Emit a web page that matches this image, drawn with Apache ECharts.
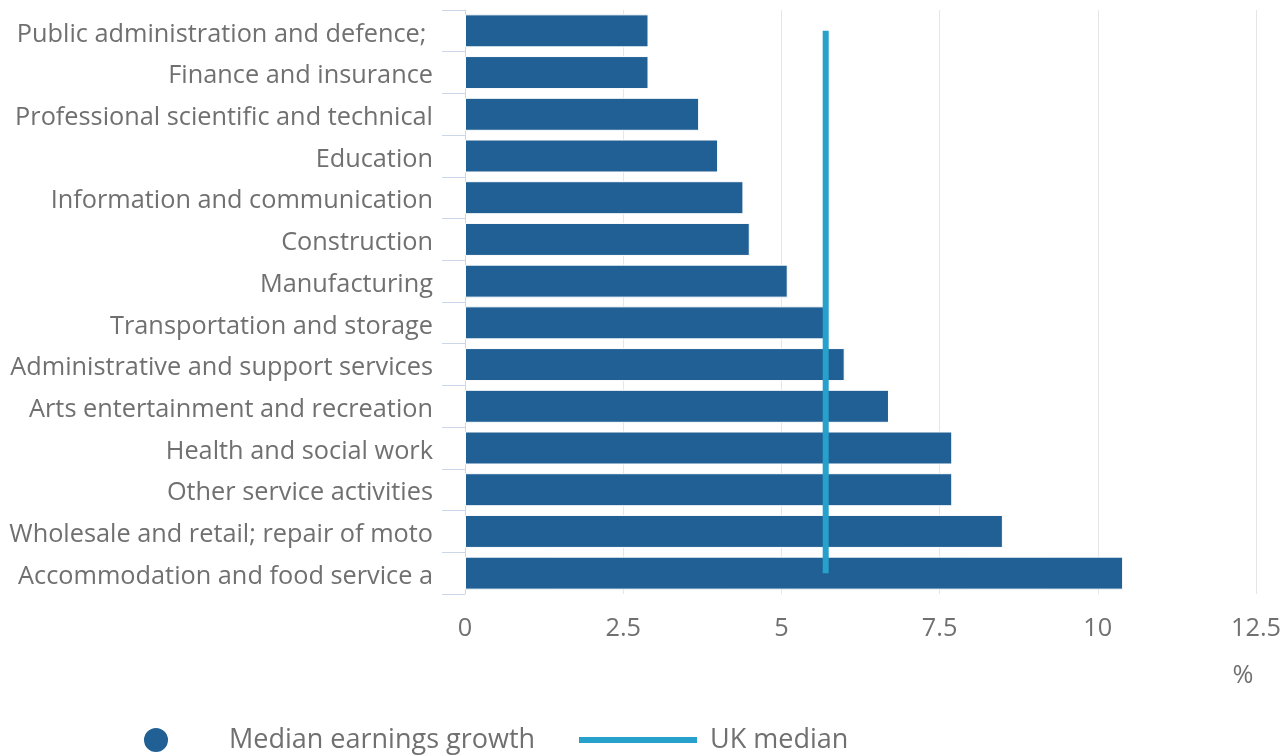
<!DOCTYPE html>
<html>
<head>
<meta charset="utf-8">
<script src="https://cdn.jsdelivr.net/npm/echarts@6/dist/echarts.min.js"></script>
<style>
  html, body { margin: 0; padding: 0; background: #fff; }
  #chart { width: 1288px; height: 755px; }
</style>
</head>
<body>
<div id="chart"></div>
<script>
// Industry sectors, top to bottom
const industries = [
  'Public administration and defence; social security',
  'Finance and insurance',
  'Professional scientific and technical',
  'Education',
  'Information and communication',
  'Construction',
  'Manufacturing',
  'Transportation and storage',
  'Administrative and support services',
  'Arts entertainment and recreation',
  'Health and social work',
  'Other service activities',
  'Wholesale and retail; repair of motor vehicles',
  'Accommodation and food service activities'
];

// Median earnings growth by industry, %
const medianGrowth = [2.9, 2.9, 3.7, 4.0, 4.4, 4.5, 5.1, 5.7, 6.0, 6.7, 7.7, 7.7, 8.5, 10.4];

// UK-wide median growth, %
const ukMedian = 5.7;
const ukMedianSeries = industries.map(() => ukMedian);

// Value axis ticks
const xTicks = [0, 2.5, 5, 7.5, 10, 12.5];

const FONT = "'Open Sans', 'Noto Sans', sans-serif";
const TEXT = '#707070';
const AXIS = '#ccd6eb';
const BAR = '#206095';
const LINE = '#27a0cc';

const chart = echarts.init(document.getElementById('chart'), null, { renderer: 'canvas' });

const legendText = { fontFamily: FONT, fontSize: 27, color: TEXT, lineHeight: 28 };

chart.setOption({
  animation: false,
  textStyle: { fontFamily: FONT },
  grid: { left: 465, right: 32, top: 10, bottom: 161, containLabel: false },
  legend: [
    {
      left: 137,
      top: 718,
      itemWidth: 26,
      itemHeight: 26,
      textStyle: Object.assign({}, legendText, { padding: [6, 0, 0, 55] }),
      data: [{ name: 'Median earnings growth', icon: 'circle' }]
    },
    {
      left: 574,
      top: 718,
      itemWidth: 118,
      itemHeight: 6,
      textStyle: Object.assign({}, legendText, { padding: [6, 0, 0, 8] }),
      data: [{ name: 'UK median', icon: 'rect', itemStyle: { color: LINE } }]
    }
  ],
  xAxis: {
    type: 'value',
    min: xTicks[0],
    max: xTicks[xTicks.length - 1],
    interval: 2.5,
    name: '%',
    nameLocation: 'end',
    nameGap: -13,
    nameTextStyle: {
      fontFamily: FONT, fontSize: 25.3, color: TEXT,
      align: 'center', verticalAlign: 'top', padding: [69, 0, 0, 0]
    },
    axisLine: { show: false },
    axisTick: { show: false },
    axisLabel: { fontFamily: FONT, fontSize: 25.3, color: TEXT, margin: 22 },
    splitLine: { show: true, lineStyle: { color: '#e6e6e6', width: 1 } }
  },
  yAxis: {
    type: 'category',
    inverse: true,
    data: industries,
    axisLine: { show: true, lineStyle: { color: AXIS, width: 1 } },
    axisTick: { show: true, length: 23, lineStyle: { color: AXIS, width: 1 } },
    axisLabel: {
      fontFamily: FONT, fontSize: 25.3, color: TEXT, margin: 32,
      width: 428, overflow: 'truncate', ellipsis: '',
      verticalAlign: 'top', lineHeight: 7
    },
    splitLine: { show: false }
  },
  series: [
    {
      name: 'Median earnings growth',
      type: 'bar',
      data: medianGrowth,
      barWidth: 33,
      itemStyle: { color: BAR, borderColor: '#ffffff', borderWidth: 1 },
      z: 2
    },
    {
      name: 'UK median',
      type: 'line',
      data: ukMedianSeries,
      symbol: 'none',
      showSymbol: false,
      lineStyle: { color: LINE, width: 6 },
      itemStyle: { color: LINE },
      z: 3
    }
  ]
});
</script>
</body>
</html>
